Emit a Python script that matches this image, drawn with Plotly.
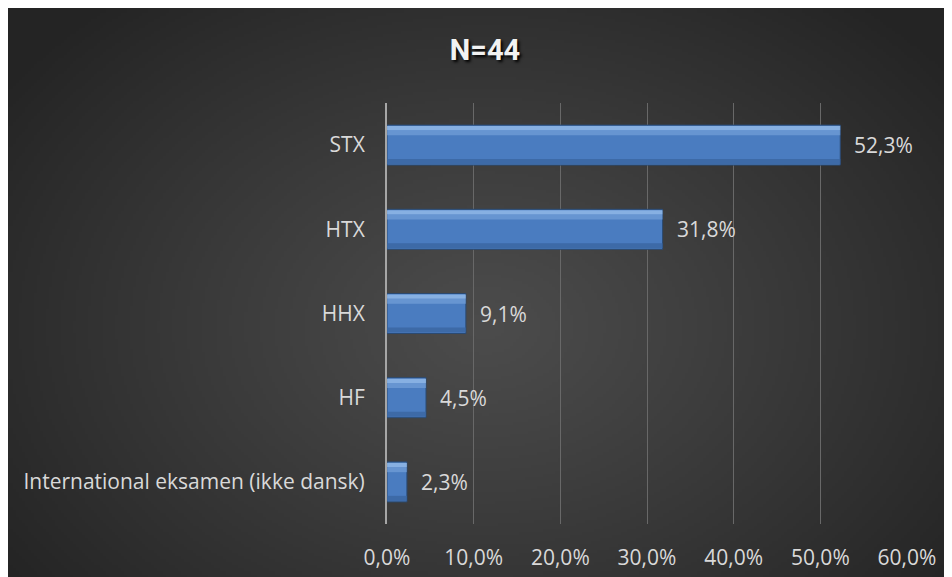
import base64, struct, zlib
import numpy as np
import plotly.graph_objects as go

categories = ["STX", "HTX", "HHX", "HF", "International eksamen (ikke dansk)"]
shares = [0.523, 0.318, 0.091, 0.045, 0.023]
x_ticks = [0, 0.1, 0.2, 0.3, 0.4, 0.5, 0.6]
title_text = "N=44"

# ---- radial gradient background as an embedded PNG ----
def make_png(w, h):
    yy, xx = np.mgrid[0:h, 0:w]
    cx, cy = w * 0.5, h * 0.55
    d = np.sqrt(((xx - cx) / (w * 0.62)) ** 2 + ((yy - cy) / (h * 0.75)) ** 2)
    d = np.clip(d, 0, 1)
    inner, outer = 76.0, 36.0
    v = inner + (outer - inner) * d ** 1.1
    img = np.stack([v, v, v], axis=-1).astype(np.uint8)
    raw = b"".join(b"\x00" + img[r].tobytes() for r in range(h))
    def chunk(t, data):
        c = struct.pack(">I", len(data)) + t + data
        return c + struct.pack(">I", zlib.crc32(t + data) & 0xffffffff)
    png = b"\x89PNG\r\n\x1a\n" + chunk(b"IHDR", struct.pack(">IIBBBBB", w, h, 8, 2, 0, 0, 0))
    png += chunk(b"IDAT", zlib.compress(raw, 9)) + chunk(b"IEND", b"")
    return "data:image/png;base64," + base64.b64encode(png).decode()

bg = make_png(316, 189)

# page has an 8px body margin; figure coordinates = page coordinates - 8
W, H = 952, 577
L, R, T, B = 379, 53, 95, 61
pw, ph = W - L - R, H - T - B
def pxx(p):
    return (p - L) / pw
def pxy(p):
    return 1 - (p - T) / ph

font = "Open Sans"
fs = 21
txtc = "#d9d9d9"
bw = 0.475

fig = go.Figure()
# main bar body
fig.add_trace(go.Bar(
    x=shares, y=categories, orientation="h", width=bw,
    marker=dict(color="#4a7cc0", line=dict(color="#2b4a72", width=1)),
    hoverinfo="skip",
))
# upper light bevel
fig.add_trace(go.Bar(
    x=shares, y=categories, orientation="h", width=0.05, offset=-bw / 2 + 0.012,
    marker=dict(color="#9cc2ee", line=dict(width=0), opacity=0.75),
    hoverinfo="skip",
))
fig.add_trace(go.Bar(
    x=shares, y=categories, orientation="h", width=0.06, offset=-bw / 2 + 0.062,
    marker=dict(color="#7ba6dc", line=dict(width=0), opacity=0.6),
    hoverinfo="skip",
))
# lower dark band
fig.add_trace(go.Bar(
    x=shares, y=categories, orientation="h", width=0.06, offset=bw / 2 - 0.072,
    marker=dict(color="#3a65a0", line=dict(width=0), opacity=0.8),
    hoverinfo="skip",
))

for c, v in zip(categories, shares):
    fig.add_annotation(x=v, y=c, text=f"{v*100:.1f}%".replace(".", ","),
                       showarrow=False, xanchor="left", xshift=12,
                       font=dict(family=font, size=fs, color=txtc))

fig.update_layout(
    width=W, height=H,
    margin=dict(l=L, r=R, t=T, b=B),
    paper_bgcolor="#262626",
    plot_bgcolor="rgba(0,0,0,0)",
    barmode="overlay",
    separators=",.",
    showlegend=False,
    title=dict(text=f"<b>{title_text}</b>", x=(485 - 8) / W, xanchor="center",
               y=1 - 42 / H, yanchor="middle",
               font=dict(family="Roboto", size=29, color="#f2f2f2",
                         shadow="2px 2px 3px #000000")),
    images=[dict(source=bg, xref="paper", yref="paper",
                 x=pxx(0), y=pxy(0), sizex=W / pw, sizey=H / ph,
                 xanchor="left", yanchor="top", sizing="stretch", layer="below")],
    xaxis=dict(range=[0, 0.6], tickvals=x_ticks, tickformat=".1%",
               showgrid=True, gridcolor="#686868", gridwidth=1,
               zeroline=False, showline=False, ticks="",
               ticklabelstandoff=19,
               tickfont=dict(family=font, size=fs, color=txtc)),
    yaxis=dict(autorange="reversed", showgrid=False, ticks="",
               showline=True, linecolor="#a6a6a6", linewidth=2,
               ticklabelstandoff=16,
               tickfont=dict(family=font, size=fs, color=txtc)),
)

fig.write_html("out.html")
